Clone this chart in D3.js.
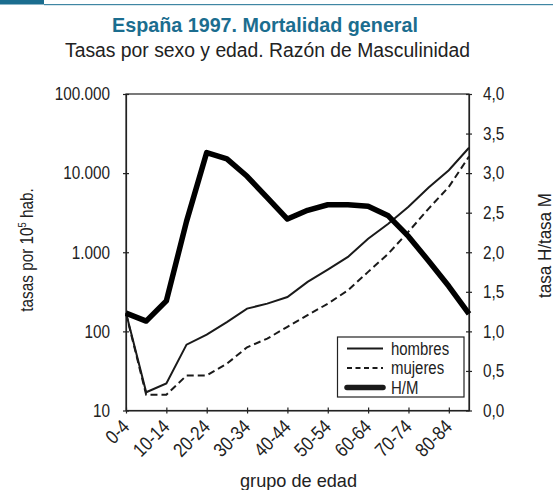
<!DOCTYPE html>
<html><head><meta charset="utf-8">
<script src="https://cdn.jsdelivr.net/npm/d3@7"></script>
<style>
body{margin:0;background:#fff}
svg text{font-family:"Liberation Sans",Arial,sans-serif;fill:#222}
</style>
</head><body><svg id="c" width="553" height="490"></svg>
<script>
const ageGroups = ["0-4","5-9","10-14","15-19","20-24","25-29","30-34","35-39","40-44","45-49","50-54","55-59","60-64","65-69","70-74","75-79","80-84","85+"];
const hombres = [172,17,22,68,91,131,194,224,272,422,603,873,1480,2290,3760,6600,10900,20900];
const mujeres = [168,15.8,15.8,27.7,27.7,39,63,81,114,160,224,330,565,960,1820,3560,6700,16200];
const ratioHM = [1.23,1.13,1.385,2.39,3.26,3.18,2.96,2.69,2.42,2.53,2.60,2.60,2.58,2.46,2.20,1.89,1.57,1.22];
const leftTicks = [10,100,1000,10000,100000];
const rightTicks = [0,0.5,1,1.5,2,2.5,3,3.5,4];
const xTickLabels = ["0-4","10-14","20-24","30-34","40-44","50-54","60-64","70-74","80-84"];
const legendItems = ["hombres","mujeres","H/M"];

const L = 126, R = 469, T = 94, B = 410.5;
const svg = d3.select("#c");
const loc = d3.formatLocale({decimal:",", thousands:".", grouping:[3], currency:["","€"]});
const fmtL = loc.format(",d"), fmtR = loc.format(".1f");

function narrow(sel, k){
  sel.each(function(){
    const l = this.getComputedTextLength();
    this.setAttribute("textLength", (l*k).toFixed(2));
    this.setAttribute("lengthAdjust","spacingAndGlyphs");
  });
}
function fitTo(sel, w){
  sel.attr("textLength", w).attr("lengthAdjust","spacingAndGlyphs");
}

// top decoration
svg.append("rect").attr("x",0).attr("y",0).attr("width",44).attr("height",4.5).attr("fill","#1b6d8f");
svg.append("rect").attr("x",44).attr("y",4).attr("width",509).attr("height",1.2).attr("fill","#3f86a3");

// titles
fitTo(svg.append("text").attr("x",265).attr("y",31.5).attr("text-anchor","middle")
  .style("font-size","21px").style("font-weight","bold").style("fill","#1b6d8f")
  .text("España 1997. Mortalidad general"), 306);
fitTo(svg.append("text").attr("x",267.5).attr("y",56.7).attr("text-anchor","middle")
  .style("font-size","19.5px").text("Tasas por sexo y edad. Razón de Masculinidad"), 405);

const x = d3.scalePoint().domain(ageGroups).range([L, R]);
const yL = d3.scaleLog().domain([10,100000]).range([B, T]);
const yR = d3.scaleLinear().domain([0,4]).range([B, T]);

// frame
svg.append("rect").attr("x",L).attr("y",T).attr("width",R-L).attr("height",B-T)
  .attr("fill","none").attr("stroke","#222").attr("stroke-width",1.2);

// axes
const gL = svg.append("g").attr("transform",`translate(${L},0)`)
  .call(d3.axisLeft(yL).tickValues(leftTicks).tickFormat(fmtL).tickSize(3).tickSizeOuter(0).tickPadding(13));
gL.selectAll(".tick line").attr("x1",3);
const gR = svg.append("g").attr("transform",`translate(${R},0)`)
  .call(d3.axisRight(yR).tickValues(rightTicks).tickFormat(fmtR).tickSize(3).tickSizeOuter(0).tickPadding(11));
gR.selectAll(".tick line").attr("x1",-3);
const gX = svg.append("g").attr("transform",`translate(0,${B})`)
  .call(d3.axisBottom(x).tickValues(xTickLabels).tickSize(3).tickSizeOuter(0));
gX.selectAll(".tick line").attr("y1",-3);
gX.selectAll(".tick text").attr("text-anchor","end").attr("y",0).attr("dy",0)
  .attr("transform","translate(4,17.5) rotate(-45)");
[gL,gR,gX].forEach(g=>{
  g.attr("font-family",null).attr("font-size",null);
  g.select(".domain").attr("stroke","#222").attr("stroke-width",1.2);
  g.selectAll(".tick line").attr("stroke","#222").attr("stroke-width",1.2);
  g.selectAll(".tick text").style("font-size","18px").style("fill","#222");
});
gX.selectAll(".tick text").style("font-size","19.5px");
narrow(gL.selectAll(".tick text"), 0.85);
narrow(gR.selectAll(".tick text"), 0.85);
narrow(gX.selectAll(".tick text"), 0.85);

// axis titles
const lt = svg.append("text").attr("transform","translate(33,250) rotate(-90) scale(0.85,1)").attr("text-anchor","middle")
  .style("font-size","18px");
lt.append("tspan").text("tasas por 10");
lt.append("tspan").attr("dy",-7).style("font-size","11px").text("5");
lt.append("tspan").attr("dy",7).text(" hab.");
fitTo(svg.append("text").attr("transform","translate(550.5,245.5) rotate(-90)").attr("text-anchor","middle")
  .style("font-size","17.5px").text("tasa H/tasa M"), 105);
fitTo(svg.append("text").attr("x",298.5).attr("y",487).attr("text-anchor","middle")
  .style("font-size","19px").text("grupo de edad"), 117);

// lines
const lineL = d3.line().x((d,i)=>x(ageGroups[i])).y(d=>yL(d));
const lineR = d3.line().x((d,i)=>x(ageGroups[i])).y(d=>yR(d));
svg.append("path").datum(hombres).attr("d",lineL).attr("fill","none").attr("stroke","#1a1a1a").attr("stroke-width",2);
svg.append("path").datum(mujeres).attr("d",lineL).attr("fill","none").attr("stroke","#1a1a1a").attr("stroke-width",2).attr("stroke-dasharray","7,4");
svg.append("path").datum(ratioHM).attr("d",lineR).attr("fill","none").attr("stroke","#000").attr("stroke-width",5.5).attr("stroke-linejoin","round");

// legend
const lg = svg.append("g");
lg.append("rect").attr("x",337.5).attr("y",337).attr("width",126.5).attr("height",60)
  .attr("fill","#fff").attr("stroke","#222").attr("stroke-width",1.2);
const styles = [{w:2,d:null},{w:2,d:"5,3.5"},{w:5.5,d:null}];
legendItems.forEach((t,i)=>{
  const yy = 348.5 + i*19.5;
  lg.append("line").attr("x1",347).attr("x2",383).attr("y1",yy).attr("y2",yy)
    .attr("stroke","#1a1a1a").attr("stroke-width",styles[i].w).attr("stroke-dasharray",styles[i].d).attr("stroke-linecap",i==2?"round":"butt");
  narrow(lg.append("text").attr("x",391).attr("y",yy+6).style("font-size","18px").text(t), 0.83);
});
</script></body></html>
